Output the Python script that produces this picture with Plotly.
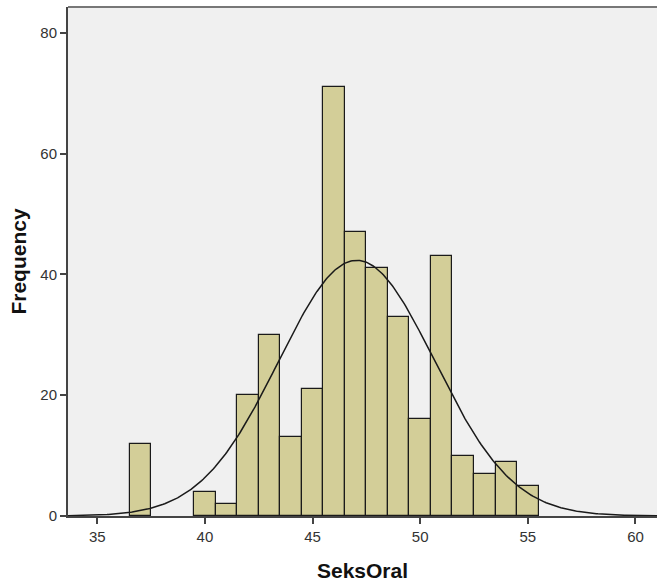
import numpy as np
import plotly.graph_objects as go

bin_centers = [37, 40, 41, 42, 43, 44, 45, 46, 47, 48, 49, 50, 51, 52, 53, 54, 55]
counts = [12, 4, 2, 20, 30, 13, 21, 71, 47, 41, 33, 16, 43, 10, 7, 9, 5]
x_ticks = [35, 40, 45, 50, 55, 60]
y_ticks = [0, 20, 40, 60, 80]
mean_val = 47.05
std_val = 3.62
n_total = sum(counts)
bin_width = 1.0

xs = np.linspace(33.6, 61, 400)
ys = n_total * bin_width / (std_val * np.sqrt(2 * np.pi)) * np.exp(-0.5 * ((xs - mean_val) / std_val) ** 2)

fig = go.Figure()
fig.add_trace(go.Bar(
    x=bin_centers, y=counts, width=bin_width,
    marker=dict(color="#d3ce98", line=dict(color="#1a1a1a", width=1.2)),
    showlegend=False, hoverinfo="x+y",
))
fig.add_trace(go.Scatter(
    x=xs, y=ys, mode="lines",
    line=dict(color="#1a1a1a", width=1.5),
    showlegend=False, hoverinfo="skip",
))

fig.update_layout(
    width=657, height=588,
    margin=dict(l=68, r=0, t=7, b=72),
    paper_bgcolor="white",
    plot_bgcolor="#f0f0f0",
    font=dict(family="Liberation Sans, Arial, sans-serif", color="#333333", size=15),
    bargap=0,
)
fig.update_xaxes(
    range=[33.64, 61.0],
    tickvals=x_ticks,
    ticks="outside", ticklen=6, tickwidth=1.5, tickcolor="#444444",
    showline=True, linecolor="#444444", linewidth=2, mirror=False,
    showgrid=False, zeroline=False,
    tickfont=dict(size=15, color="#333333"),
    title=dict(text="<b>SeksOral</b>", font=dict(size=21, color="#111111"), standoff=19),
)
fig.update_yaxes(
    range=[0, 84.25],
    tickvals=y_ticks,
    ticks="outside", ticklen=6, tickwidth=1.5, tickcolor="#444444",
    showline=True, linecolor="#444444", linewidth=2,
    showgrid=False, zeroline=False,
    tickfont=dict(size=15, color="#333333"),
    title=dict(text="<b>Frequency</b>", font=dict(size=21, color="#111111"), standoff=8),
)
fig.add_shape(type="line", xref="paper", yref="paper", x0=0, x1=1, y0=1, y1=1,
              line=dict(color="#777777", width=2))

fig.write_html("out.html", config={"displayModeBar": False},
               post_script="document.body.style.margin='0';")
